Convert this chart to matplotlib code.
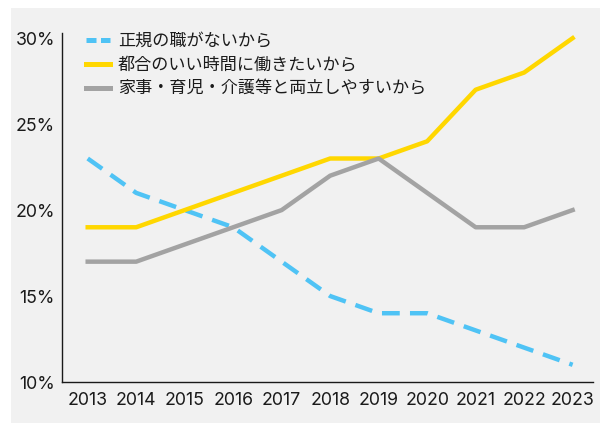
import matplotlib
matplotlib.use("Agg")
import matplotlib.pyplot as plt
from matplotlib.patches import Rectangle

plt.rcParams['font.family'] = ['Inter', 'Noto Sans CJK JP', 'DejaVu Sans']

# data
years = [2013, 2014, 2015, 2016, 2017, 2018, 2019, 2020, 2021, 2022, 2023]
no_regular_job = [23, 21, 20, 19, 17, 15, 14, 14, 13, 12, 11]
convenient_hours = [19, 19, 20, 21, 22, 23, 23, 24, 27, 28, 30]
family_balance = [17, 17, 18, 19, 20, 22, 23, 21, 19, 19, 20]
labels = ["正規の職がないから", "都合のいい時間に働きたいから", "家事・育児・介護等と両立しやすいから"]
yticks = [10, 15, 20, 25, 30]

fig = plt.figure(figsize=(6, 4.23), dpi=100, facecolor="white")
# grey panel behind the chart
fig.add_artist(Rectangle((11 / 600, 0), 1, 1 - 8 / 423, transform=fig.transFigure,
                         facecolor="#f1f1f1", edgecolor="none", zorder=-10))

ax = fig.add_axes([62 / 600, 1 - 382 / 423, (593 - 62) / 600, (382 - 33) / 423])
ax.set_facecolor("none")

ax.plot(years, no_regular_job, color="#4fc3f5", lw=3.2, ls=(0, (4, 2.3)), label=labels[0])
ax.plot(years, convenient_hours, color="#ffd700", lw=3.2, label=labels[1])
ax.plot(years, family_balance, color="#a3a3a3", lw=3.2, label=labels[2])

ax.set_xlim(2012.47, 2023.42)
ax.set_ylim(10, 30.3)
ax.set_xticks(years)
ax.set_yticks(yticks)
ax.set_yticklabels([f"{v}%" for v in yticks])
ax.tick_params(length=0, labelsize=12.8, colors="#1a1a1a")
ax.tick_params(axis="x", pad=7)
ax.tick_params(axis="y", pad=5)
for s in ["top", "right"]:
    ax.spines[s].set_visible(False)
for s in ["left", "bottom"]:
    ax.spines[s].set_linewidth(1.0)
    ax.spines[s].set_color("#1a1a1a")

leg = ax.legend(loc="upper left", bbox_to_anchor=(0.045, 1.0), frameon=False,
                fontsize=12.3, handlelength=1.4, handletextpad=0.48, labelspacing=0.4,
                borderaxespad=0, borderpad=0)
for t in leg.get_texts():
    t.set_color("#1a1a1a")
for h in leg.get_lines():
    h.set_linewidth(3.6)
leg.get_lines()[0].set_linestyle((0, (2, 0.9)))

fig.savefig("out.png", dpi=100)
